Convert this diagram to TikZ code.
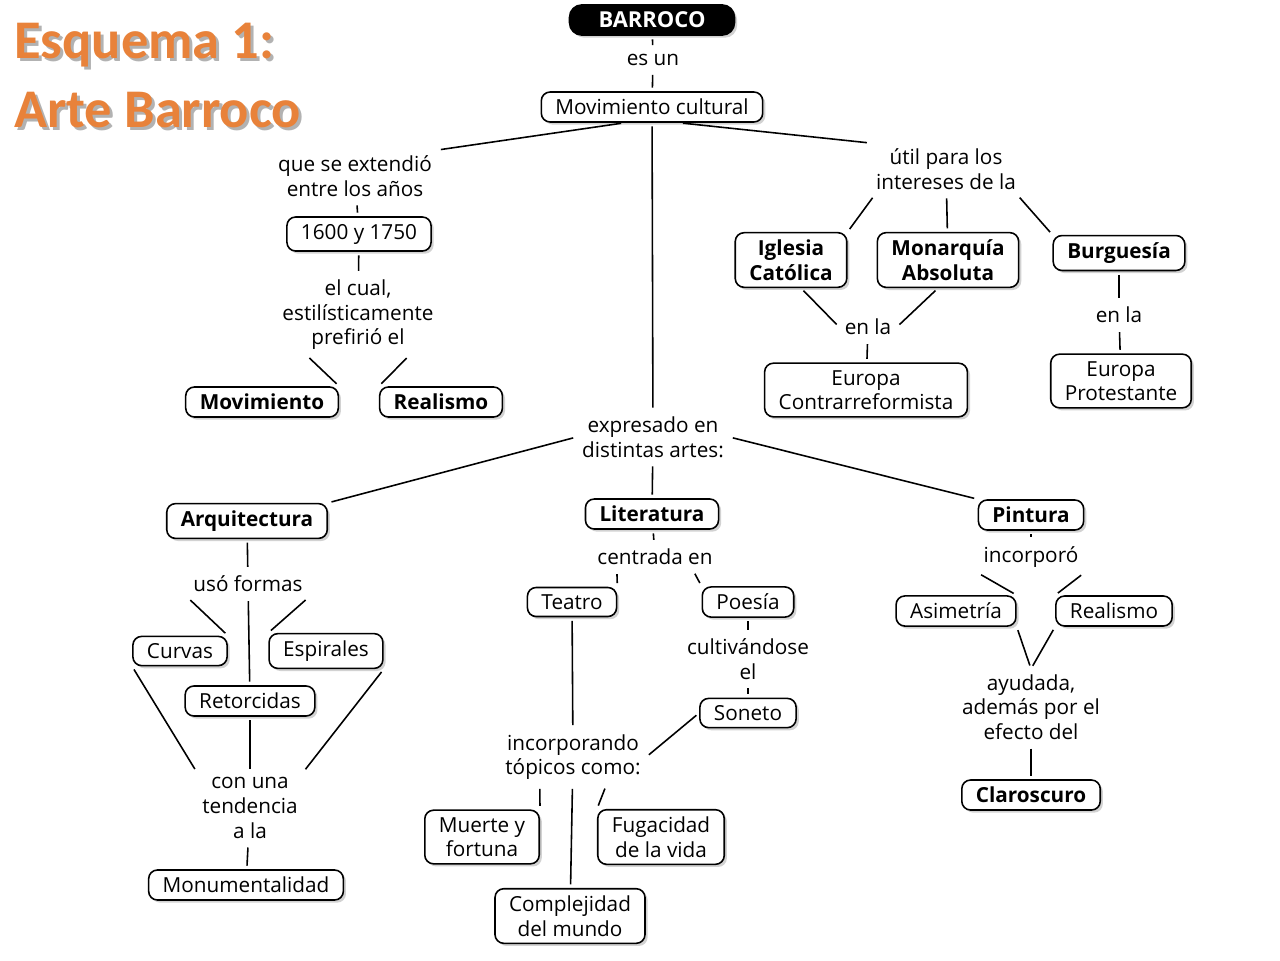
\documentclass[tikz,border=0pt]{standalone}
\usepackage{fontspec}
\setmainfont{Open Sans}
\newfontfamily\titlefont{Carlito}
\usetikzlibrary{shadows}
\definecolor{ttl}{HTML}{E8823A}
\begin{document}
\begin{tikzpicture}[x=0.02cm,y=-0.02cm,
  every node/.style={font=\fontsize{11.8}{14}\selectfont, align=center},
  box/.style={draw=black, rounded corners=5pt, line width=0.9pt, fill=white, inner xsep=8pt, inner ysep=4pt,
     drop shadow={shadow xshift=1.5pt,shadow yshift=-1.5pt,opacity=0.35}},
  bbox/.style={box, font=\fontsize{11.8}{14}\selectfont\bfseries},
  lab/.style={inner sep=3pt, fill=white},
  ttlst/.style={anchor=west, font=\titlefont\fontsize{31}{34}\selectfont\bfseries, align=left},
  ln/.style={line width=0.9pt, shorten <=2pt, shorten >=2pt}]
\useasboundingbox (0,0) rectangle (1280,960);
\fill[white] (0,0) rectangle (1280,960);
% title
\node[ttlst, text=gray!60] at (11,48) {Esquema 1:};
\node[ttlst, text=ttl] (t1) at (8,45) {Esquema 1:};
\node[ttlst, text=gray!60] at (11,113) {Arte Barroco};
\node[ttlst, text=ttl] (t2) at (8,110) {Arte Barroco};
% nodes
\node[box, fill=black, text=white, font=\fontsize{12.5}{14}\selectfont\bfseries, minimum width=3.3cm, rounded corners=7pt] (bar) at (652,20) {BARROCO};
\node[lab] (esun) at (653,60) {es un};
\node[box] (mc) at (652,107) {Movimiento cultural};
\node[lab] (ext) at (355,176) {que se extendió\\entre los años};
\node[box] (y16) at (359,234) {1600 y 1750};
\node[lab] (cual) at (358,315) {el cual,\\estilísticamente\\prefirió el};
\node[bbox] (mov) at (262,402) {Movimiento};
\node[bbox] (rea) at (441,402) {Realismo};
\node[lab] (util) at (946,169) {útil para los\\intereses de la};
\node[bbox] (igl) at (791,260) {Iglesia\\Católica};
\node[bbox] (mon) at (948,260) {Monarquía\\Absoluta};
\node[bbox] (bur) at (1119,253) {Burguesía};
\node[lab] (enla1) at (868,327) {en la};
\node[box] (eco) at (866,390) {Europa\\Contrarreformista};
\node[lab] (enla2) at (1119,315) {en la};
\node[box] (epr) at (1121,381) {Europa\\Protestante};
\node[lab] (exp) at (653,437) {expresado en\\distintas artes:};
\node[bbox] (arq) at (247,521) {Arquitectura};
\node[bbox] (lit) at (652,514) {Literatura};
\node[bbox] (pin) at (1031,515) {Pintura};
\node[lab] (uso) at (248,584) {usó formas};
\node[box] (cur) at (180,651) {Curvas};
\node[box] (esp) at (326,651) {Espirales};
\node[box] (ret) at (250,701) {Retorcidas};
\node[lab] (con) at (250,808) {con una\\tendencia\\a la};
\node[box] (monu) at (246,885) {Monumentalidad};
\node[lab] (cen) at (655,557) {centrada en};
\node[box] (tea) at (572,602) {Teatro};
\node[box] (poe) at (748,602) {Poesía};
\node[lab] (cul) at (748,659) {cultivándose\\el};
\node[box] (son) at (748,713) {Soneto};
\node[lab] (inc) at (573,757) {incorporando\\tópicos como:};
\node[box] (mue) at (482,837) {Muerte y\\fortuna};
\node[box] (fug) at (661,837) {Fugacidad\\de la vida};
\node[box] (com) at (570,916) {Complejidad\\del mundo};
\node[lab] (inco) at (1031,557) {incorporó};
\node[box] (asi) at (956,611) {Asimetría};
\node[box] (rea2) at (1114,611) {Realismo};
\node[lab] (ayu) at (1031,707) {ayudada,\\además por el\\efecto del};
\node[bbox] (cla) at (1031,795) {Claroscuro};
% connectors
\draw[ln] (bar) -- (esun); \draw[ln] (esun) -- (mc);
\draw[ln] (mc.210) -- (ext.north east);
\draw[ln] (ext) -- (y16); \draw[ln] (y16) -- (cual);
\draw[ln] (cual.south west) ++(30,0) coordinate (c1); \draw[ln] (c1) -- (mov.north east);
\draw[ln] (cual.south east) ++(-30,0) coordinate (c2); \draw[ln] (c2) -- (rea.north west);
\draw[ln] (mc.330) -- (util.north west);
\draw[ln] (util.200) -- (igl.north east);
\draw[ln] (util) -- (mon);
\draw[ln] (util.340) -- (bur.north west);
\draw[ln] (igl.south) ++(10,0) coordinate (c3); \draw[ln] (c3) -- (enla1.west);
\draw[ln] (mon.south) ++(-10,0) coordinate (c4); \draw[ln] (c4) -- (enla1.east);
\draw[ln] (enla1) -- (eco);
\draw[ln] (bur) -- (enla2); \draw[ln] (enla2) -- (epr);
\draw[ln] (mc) -- (exp);
\draw[ln] (exp.west) -- (arq.north east);
\draw[ln] (exp) -- (lit);
\draw[ln] (exp.east) -- (pin.north west);
\draw[ln] (arq) -- (uso);
\draw[ln] (uso.south west) -- (cur.north east);
\draw[ln] (uso.south east) -- (esp.north west);
\draw[ln] (uso) -- (ret);
\draw[ln] (cur.south west) -- (con.north west);
\draw[ln] (esp.south east) -- (con.north east);
\draw[ln] (ret) -- (con);
\draw[ln] (con) -- (monu);
\draw[ln] (lit) -- (cen);
\draw[ln] (cen.south west) ++(25,0) coordinate (c5); \draw[ln] (c5) -- (tea.north east);
\draw[ln] (cen.south east) ++(-25,0) coordinate (c6); \draw[ln] (c6) -- (poe.north west);
\draw[ln] (poe) -- (cul); \draw[ln] (cul) -- (son);
\draw[ln] (tea) -- (inc);
\draw[ln] (son.west) -- (inc.east);
\draw[ln] (inc.south west) ++(40,0) coordinate (c7); \draw[ln] (c7) -- (mue.north east);
\draw[ln] (inc.south east) ++(-40,0) coordinate (c8); \draw[ln] (c8) -- (fug.north west);
\draw[ln] (inc) -- (com);
\draw[ln] (pin) -- (inco);
\draw[ln] (inco.south west) -- (asi.north east);
\draw[ln] (inco.south east) -- (rea2.north west);
\draw[ln] (asi.south east) -- (ayu.north);
\draw[ln] (rea2.south west) -- (ayu.north);
\draw[ln] (ayu) -- (cla);
\end{tikzpicture}
\end{document}
